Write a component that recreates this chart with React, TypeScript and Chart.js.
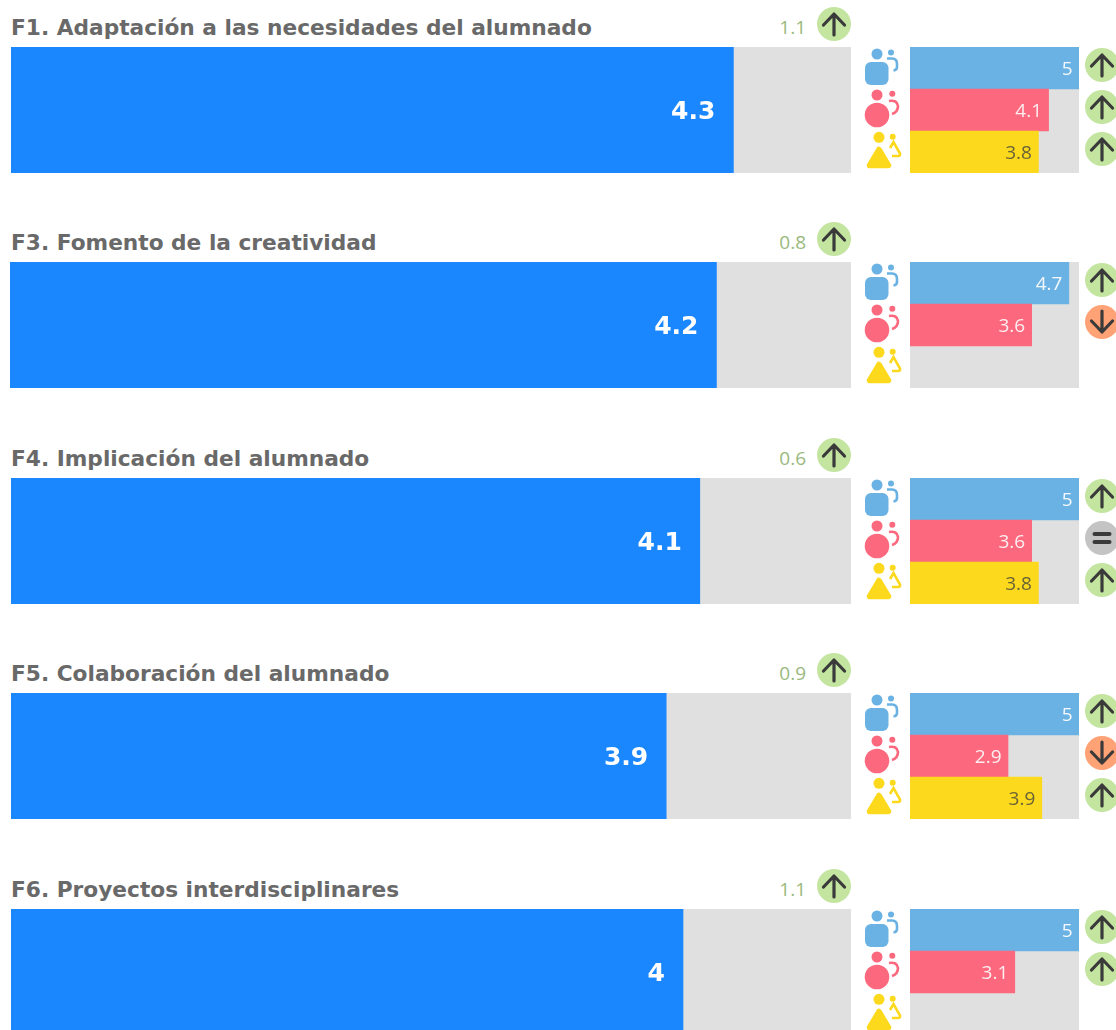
import React, { useEffect, useRef } from "react";
import { Chart, registerables } from "chart.js";

Chart.register(...registerables);

const factors = [
  "F1. Adaptación a las necesidades del alumnado",
  "F3. Fomento de la creatividad",
  "F4. Implicación del alumnado",
  "F5. Colaboración del alumnado",
  "F6. Proyectos interdisciplinares",
];
const overall = [4.3, 4.2, 4.1, 3.9, 4];
const overallChange = ["1.1", "0.8", "0.6", "0.9", "1.1"];
const overallTrend = ["up", "up", "up", "up", "up"];
const blueValues = [5, 4.7, 5, 5, 5];
const redValues = [4.1, 3.6, 3.6, 2.9, 3.1];
const yellowValues = [3.8, null, 3.8, 3.9, null];
const blueTrend = ["up", "up", "up", "up", "up"];
const redTrend = ["up", "down", "equal", "down", "up"];
const yellowTrend = ["up", null, "up", "up", null];
const groups = ["Grupo azul", "Grupo rojo", "Grupo amarillo"];
const scaleMax = 5;

const rowTops = [47, 262, 478, 693, 909];
const leftStarts = [11, 10, 11, 11, 11];
const leftWidths = [840, 841, 840, 840, 840];
const RIGHT_X = 910;
const RIGHT_W = 169;
const ROW_H = 126;
const TRACK = "#e0e0e0";
const BLUE = "#1a87ff";
const SKY = "#6ab2e3";
const RED = "#fc687d";
const YELLOW = "#fcd91c";
const FONT = '"DejaVu Sans", sans-serif';

const valueLabels = {
  id: "valueLabels",
  afterDatasetsDraw(chart: any, _args: any, opts: any) {
    const meta = chart.getDatasetMeta(0);
    const ctx = chart.ctx;
    ctx.save();
    ctx.textAlign = "right";
    ctx.textBaseline = "middle";
    ctx.font = opts.font;
    meta.data.forEach((bar: any, i: number) => {
      const v = chart.data.datasets[0].data[i];
      if (v == null) return;
      ctx.fillStyle = opts.colors[i];
      ctx.fillText(String(v), bar.x - opts.inset, bar.y + (opts.dy || 0));
    });
    ctx.restore();
  },
};

function BarChart(props: {
  labels: string[];
  values: (number | null)[];
  colors: string[];
  labelFont: string;
  labelColors: string[];
  inset: number;
  dy: number;
  style: React.CSSProperties;
  width: number;
}) {
  const ref = useRef<HTMLCanvasElement>(null);
  useEffect(() => {
    const chart = new Chart(ref.current!, {
      type: "bar",
      data: {
        labels: props.labels,
        datasets: [
          {
            data: props.values,
            backgroundColor: props.colors,
            order: 1,
            grouped: false,
            barPercentage: 1,
            categoryPercentage: 1,
          },
          {
            data: props.labels.map(() => scaleMax),
            backgroundColor: TRACK,
            order: 2,
            grouped: false,
            barPercentage: 1,
            categoryPercentage: 1,
          },
        ],
      } as any,
      options: {
        indexAxis: "y",
        animation: false,
        responsive: false,
        layout: { padding: 0 },
        scales: {
          x: { display: false, min: 0, max: scaleMax },
          y: { display: false },
        },
        plugins: {
          legend: { display: false },
          tooltip: { enabled: false },
          valueLabels: {
            font: props.labelFont,
            colors: props.labelColors,
            inset: props.inset,
            dy: props.dy,
          },
        },
      } as any,
      plugins: [valueLabels],
    });
    return () => chart.destroy();
  }, []);
  return (
    <canvas
      ref={ref}
      width={props.width}
      height={ROW_H}
      style={{ position: "absolute", display: "block", ...props.style }}
    />
  );
}

function Badge({ trend, cx, cy }: { trend: string; cx: number; cy: number }) {
  const fill = trend === "up" ? "#c3e5a0" : trend === "down" ? "#ffa276" : "#c4c4c4";
  return (
    <svg
      width={36}
      height={36}
      viewBox="-18 -18 36 36"
      style={{ position: "absolute", left: cx - 18, top: cy - 18, overflow: "visible" }}
    >
      <circle r={17} fill={fill} />
      <g stroke="#3a3a3a" strokeWidth={3.2} fill="none" strokeLinecap="round" strokeLinejoin="round">
        {trend === "up" && <path d="M0 11V-10M-10.5 1L0 -10L10.5 1" />}
        {trend === "down" && <path d="M0 -11V10M-10.5 -1L0 10L10.5 -1" />}
        {trend === "equal" && <path strokeWidth={4} d="M-7.5 -4H7.5M-7.5 4H7.5" />}
      </g>
    </svg>
  );
}

function Icons({ top }: { top: number }) {
  return (
    <svg
      width={44}
      height={ROW_H}
      viewBox={`860 0 44 ${ROW_H}`}
      style={{ position: "absolute", left: 860, top }}
    >
      <g fill={SKY}>
        <circle cx={877} cy={7} r={5.5} />
        <circle cx={891} cy={5.5} r={3} />
        <rect x={865} y={15} width={23.5} height={23} rx={6} />
        <path d="M887 11.5H892Q897 11.5 897 17V20Q897 23 893.5 23.5" fill="none" stroke={SKY} strokeWidth={2.6} />
      </g>
      <g fill={RED}>
        <circle cx={877} cy={48} r={5.5} />
        <circle cx={892.3} cy={46.7} r={3} />
        <circle cx={877} cy={68} r={12.3} />
        <path d="M889 54Q897 52.5 898 59Q898 65 892 67" fill="none" stroke={RED} strokeWidth={2.6} />
      </g>
      <g fill={YELLOW}>
        <circle cx={879} cy={90.3} r={5.5} />
        <circle cx={892.7} cy={89.7} r={3} />
        <path d="M879 102.5L888.5 118.5H869.5Z" stroke={YELLOW} strokeWidth={5.5} strokeLinejoin="round" />
        <path d="M890 101L893.5 95L900 106.5Q900.5 109 898 109H892" fill="none" stroke={YELLOW} strokeWidth={2.6} />
      </g>
    </svg>
  );
}

export default function App() {
  return (
    <div
      style={{
        position: "fixed",
        left: 0,
        top: 0,
        width: 1116,
        height: 1030,
        overflow: "hidden",
        background: "#fff",
      }}
    >
      {factors.map((title, i) => {
        const top = rowTops[i];
        const left = leftStarts[i];
        const sub = [blueValues[i], redValues[i], yellowValues[i]];
        const trends = [blueTrend[i], redTrend[i], yellowTrend[i]];
        return (
          <React.Fragment key={title}>
            <div
              style={{
                position: "absolute",
                left: 11,
                top: top - 36.5,
                font: `bold 21.7px ${FONT}`,
                lineHeight: "34px",
                color: "#696969",
                whiteSpace: "nowrap",
              }}
            >
              {title}
            </div>
            <div
              style={{
                position: "absolute",
                right: 1116 - 806,
                top: top - 37,
                font: `400 19px "Open Sans", sans-serif`,
                lineHeight: "34px",
                color: "#9ab97e",
              }}
            >
              {overallChange[i]}
            </div>
            <Badge trend={overallTrend[i]} cx={833.5} cy={top - 23} />
            <BarChart
              labels={[title]}
              values={[overall[i]]}
              colors={[BLUE]}
              labelFont={`bold 25px ${FONT}`}
              labelColors={["#ffffff"]}
              inset={18}
              dy={2.5}
              width={leftWidths[i]}
              style={{ left, top }}
            />
            <Icons top={top} />
            <BarChart
              labels={groups}
              values={sub}
              colors={[SKY, RED, YELLOW]}
              labelFont={`400 19px "Open Sans", sans-serif`}
              labelColors={["#f4f8fc", "#fdeef0", "#6a6336"]}
              inset={6.5}
              dy={2}
              width={RIGHT_W}
              style={{ left: RIGHT_X, top }}
            />
            {trends.map((t, j) =>
              t ? <Badge key={j} trend={t} cx={1102} cy={top + 18 + 42 * j} /> : null
            )}
          </React.Fragment>
        );
      })}
    </div>
  );
}
